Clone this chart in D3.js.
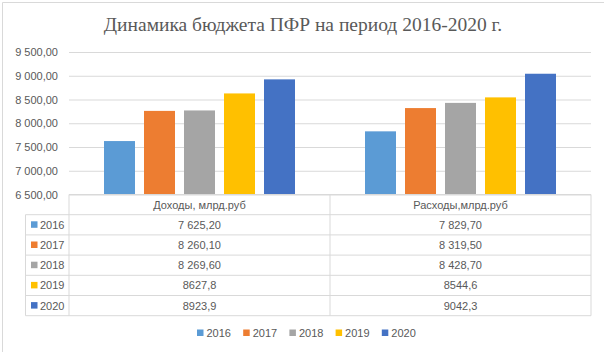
<!DOCTYPE html>
<html>
<head>
<meta charset="utf-8">
<script src="https://cdn.jsdelivr.net/npm/d3@7"></script>
<style>
  body { margin: 0; background: #fff; }
  text { font-family: "Liberation Sans", Arial, sans-serif; fill: #595959; }
</style>
</head>
<body>
<div id="container"></div>
<script>
/* CONSTANTS AND GLOBALS */
const width = 604;
const height = 352;
const margin = { top: 52, right: 13, bottom: 158, left: 69 };

/* DATA */
const categories = ["Доходы, млрд.руб", "Расходы,млрд.руб"];
const years = ["2016", "2017", "2018", "2019", "2020"];
const income = [7625.2, 8260.1, 8269.6, 8627.8, 8923.9];
const expense = [7829.7, 8319.5, 8428.7, 8544.6, 9042.3];
const incomeLabels = ["7 625,20", "8 260,10", "8 269,60", "8627,8", "8923,9"];
const expenseLabels = ["7 829,70", "8 319,50", "8 428,70", "8544,6", "9042,3"];
const yTicks = [6500, 7000, 7500, 8000, 8500, 9000, 9500];
const colors = ["#5B9BD5", "#ED7D31", "#A5A5A5", "#FFC000", "#4472C4"];

const seriesValues = [income, expense];
const seriesLabels = [incomeLabels, expenseLabels];

/* SVG */
const svg = d3.select("#container")
  .append("svg")
  .attr("width", width)
  .attr("height", height)

// chart frame (top + left visible)
svg.append("path")
  .attr("d", `M2.5,${height} V2.5 H${width}`)
  .attr("fill", "none")
  .attr("stroke", "#d9d9d9")

/* SCALES */
const plotBottom = 194.5
const xScale = d3.scaleBand()
  .domain(categories)
  .range([margin.left, width - margin.right])

const xInner = d3.scaleBand()
  .domain(years)
  .range([0, xScale.bandwidth()])
  .paddingInner(0.225)
  .paddingOuter(0.875)

const yScale = d3.scaleLinear()
  .domain([6500, 9500])
  .range([plotBottom, margin.top])

const color = d3.scaleOrdinal().domain(years).range(colors)

/* TITLE */
svg.append("text")
  .attr("x", 303)
  .attr("y", 31)
  .attr("text-anchor", "middle")
  .style("font-family", "'Liberation Serif', 'Times New Roman', serif")
  .style("font-size", "19.5px")
  .text("Динамика бюджета ПФР на период 2016-2020 г.")

/* GRIDLINES + Y AXIS */
const yAxis = d3.axisLeft(yScale)
  .tickValues(yTicks)
  .tickSize(-(width - margin.right - margin.left))
  .tickPadding(11)
  .tickFormat(d => d3.format(",.2f")(d).replace(",", " ").replace(".", ","))

const gy = svg.append("g")
  .attr("transform", `translate(${margin.left},0)`)
  .call(yAxis)
gy.select(".domain").remove()
gy.selectAll(".tick line").attr("stroke", "#d9d9d9")
gy.selectAll(".tick text")
  .style("font-size", "11px")
  .attr("fill", "#595959")

/* BARS */
const groups = svg.selectAll("g.cat")
  .data(categories)
  .join("g")
  .attr("class", "cat")
  .attr("transform", d => `translate(${xScale(d)},0)`)

groups.selectAll("rect")
  .data((d, i) => years.map((y, j) => ({ year: y, value: seriesValues[i][j] })))
  .join("rect")
  .attr("x", d => xInner(d.year))
  .attr("width", xInner.bandwidth())
  .attr("y", d => yScale(d.value))
  .attr("height", d => plotBottom - yScale(d.value))
  .attr("fill", d => color(d.year))

/* DATA TABLE */
const rowH = 20.2
const headerTop = plotBottom
const rowsTop = headerTop + rowH
const keyLeft = 25.5
const tableRight = width - margin.right
const tableBottom = rowsTop + rowH * years.length
const line = (x1, y1, x2, y2) => svg.append("line")
  .attr("x1", x1).attr("y1", y1).attr("x2", x2).attr("y2", y2)
  .attr("stroke", "#d9d9d9")

// horizontal lines
line(margin.left, headerTop, tableRight, headerTop)
years.forEach((y, i) => line(keyLeft, rowsTop + rowH * i, tableRight, rowsTop + rowH * i))
line(keyLeft, tableBottom, tableRight, tableBottom)
// vertical lines
line(keyLeft, rowsTop, keyLeft, tableBottom)
line(margin.left, headerTop, margin.left, tableBottom)
categories.forEach(c => line(xScale(c) + xScale.bandwidth(), headerTop, xScale(c) + xScale.bandwidth(), tableBottom))

// header
svg.selectAll("text.header")
  .data(categories)
  .join("text")
  .attr("class", "header")
  .attr("x", d => xScale(d) + xScale.bandwidth() / 2)
  .attr("y", headerTop + rowH / 2 + 4)
  .attr("text-anchor", "middle")
  .style("font-size", "11px")
  .text(d => d)

// cell values
categories.forEach((c, i) => {
  svg.selectAll(null)
    .data(seriesLabels[i])
    .join("text")
    .attr("x", xScale(c) + xScale.bandwidth() / 2)
    .attr("y", (d, j) => rowsTop + rowH * j + rowH / 2 + 4)
    .attr("text-anchor", "middle")
    .style("font-size", "11px")
    .text(d => d)
})

// legend keys in table
const keys = svg.selectAll("g.key")
  .data(years)
  .join("g")
  .attr("class", "key")
  .attr("transform", (d, j) => `translate(31,${rowsTop + rowH * j + rowH / 2})`)
keys.append("rect")
  .attr("x", 0).attr("y", -3.5)
  .attr("width", 6.5).attr("height", 6.5)
  .attr("fill", d => color(d))
keys.append("text")
  .attr("x", 9).attr("y", 4)
  .style("font-size", "11px")
  .text(d => d)

/* LEGEND */
const legend = svg.selectAll("g.legend")
  .data(years)
  .join("g")
  .attr("class", "legend")
  .attr("transform", (d, j) => `translate(${197 + j * 46.2},333)`)
legend.append("rect")
  .attr("x", 0).attr("y", -3.5)
  .attr("width", 6.5).attr("height", 6.5)
  .attr("fill", d => color(d))
legend.append("text")
  .attr("x", 9.5).attr("y", 4)
  .style("font-size", "11px")
  .text(d => d)
</script>
</body>
</html>
